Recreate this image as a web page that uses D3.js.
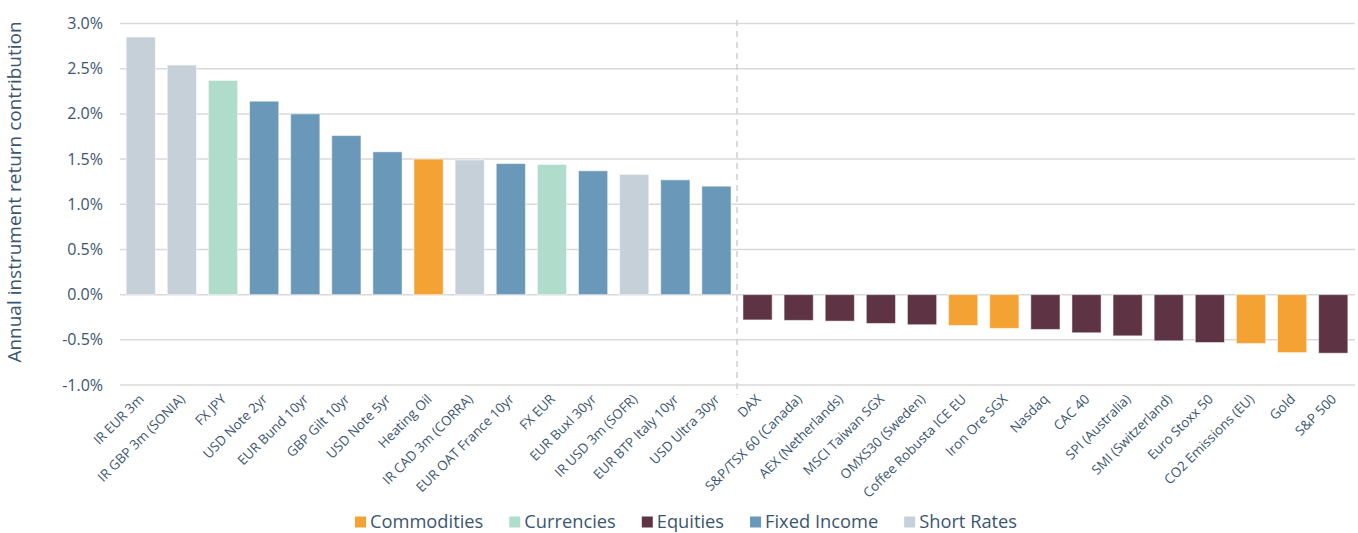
<!DOCTYPE html>
<html><head><meta charset="utf-8">
<script src="https://cdn.jsdelivr.net/npm/d3@7"></script>
<style>body{margin:0;background:#fff;} text{font-family:"Open Sans", Lato, sans-serif;}</style>
</head><body>
<svg id="c" width="1358" height="533"></svg>
<script>
const categories = ["IR EUR 3m","IR GBP 3m (SONIA)","FX JPY","USD Note 2yr","EUR Bund 10yr","GBP Gilt 10yr","USD Note 5yr","Heating Oil","IR CAD 3m (CORRA)","EUR OAT France 10yr","FX EUR","EUR Buxl 30yr","IR USD 3m (SOFR)","EUR BTP Italy 10yr","USD Ultra 30yr","DAX","S&P/TSX 60 (Canada)","AEX (Netherlands)","MSCI Taiwan SGX","OMXS30 (Sweden)","Coffee Robusta ICE EU","Iron Ore SGX","Nasdaq","CAC 40","SPI (Australia)","SMI (Switzerland)","Euro Stoxx 50","CO2 Emissions (EU)","Gold","S&P 500"];
const values = [2.85,2.54,2.37,2.14,2.00,1.76,1.58,1.50,1.49,1.45,1.44,1.37,1.33,1.27,1.20,-0.28,-0.285,-0.293,-0.319,-0.333,-0.341,-0.374,-0.385,-0.422,-0.456,-0.511,-0.53,-0.541,-0.641,-0.648];
const groups = ["Short Rates","Short Rates","Currencies","Fixed Income","Fixed Income","Fixed Income","Fixed Income","Commodities","Short Rates","Fixed Income","Currencies","Fixed Income","Short Rates","Fixed Income","Fixed Income","Equities","Equities","Equities","Equities","Equities","Commodities","Commodities","Equities","Equities","Equities","Equities","Equities","Commodities","Commodities","Equities"];
const legendItems = ["Commodities","Currencies","Equities","Fixed Income","Short Rates"];
const legendColors = ["#f4a233","#b0dccb","#5e3444","#6a98b8","#c5d0d9"];
const yTicks = [-1.0,-0.5,0,0.5,1.0,1.5,2.0,2.5,3.0];

const svg = d3.select("#c");
const textColor = "#3b5670";
const color = d3.scaleOrdinal().domain(legendItems).range(legendColors);
const x = d3.scaleBand().domain(categories).range([120,1354]).paddingInner(0.29).paddingOuter(0.15);
const y = d3.scaleLinear().domain([-1,3]).range([385,23.5]);

// gridlines
svg.append("g").selectAll("line").data(yTicks).join("line")
  .attr("x1",120).attr("x2",1355).attr("y1",d=>y(d)).attr("y2",d=>y(d))
  .attr("stroke","#d9d9d9").attr("stroke-width",1.5);

// y tick labels
svg.append("g").selectAll("text").data(yTicks).join("text")
  .attr("x",103).attr("y",d=>y(d)).attr("dy","0.35em").attr("text-anchor","end")
  .attr("fill",textColor).attr("font-size",16).text(d=>d3.format(".1f")(d).replace("−","-")+"%");

// y title
svg.append("text").attr("transform","translate(21,192) rotate(-90)").attr("text-anchor","middle")
  .attr("fill",textColor).attr("font-size",19).text("Annual instrument return contribution");

// bars
svg.append("g").selectAll("rect").data(categories).join("rect")
  .attr("x",d=>x(d)).attr("width",x.bandwidth())
  .attr("y",(d,i)=>y(Math.max(0,values[i])))
  .attr("height",(d,i)=>Math.abs(y(values[i])-y(0)))
  .attr("fill",(d,i)=>color(groups[i]))
  .attr("stroke","#ffffff").attr("stroke-opacity",0.5).attr("stroke-width",1);

// divider
const divX = (x(categories[14])+x.bandwidth()+x(categories[15]))/2;
svg.append("line").attr("x1",divX).attr("x2",divX).attr("y1",20).attr("y2",395)
  .attr("stroke","#cfcfcf").attr("stroke-width",1.5).attr("stroke-dasharray","6,5");

// x labels
svg.append("g").selectAll("text").data(categories).join("text")
  .attr("transform",d=>`translate(${x(d)+x.bandwidth()/2+4},${400}) rotate(-45)`)
  .attr("text-anchor","end").attr("fill",textColor).attr("font-size",13.4).text(d=>d);

// legend
const lg = svg.append("g");
let lx = 355;
legendItems.forEach((k,i)=>{
  lg.append("rect").attr("x",lx).attr("y",516.5).attr("width",11).attr("height",11).attr("fill",legendColors[i]);
  const t = lg.append("text").attr("x",lx+15).attr("y",521.5).attr("dy","0.36em").attr("fill",textColor).attr("font-size",18.3).text(k);
  lx += 15 + t.node().getComputedTextLength() + 26;
});
</script>
</body></html>
